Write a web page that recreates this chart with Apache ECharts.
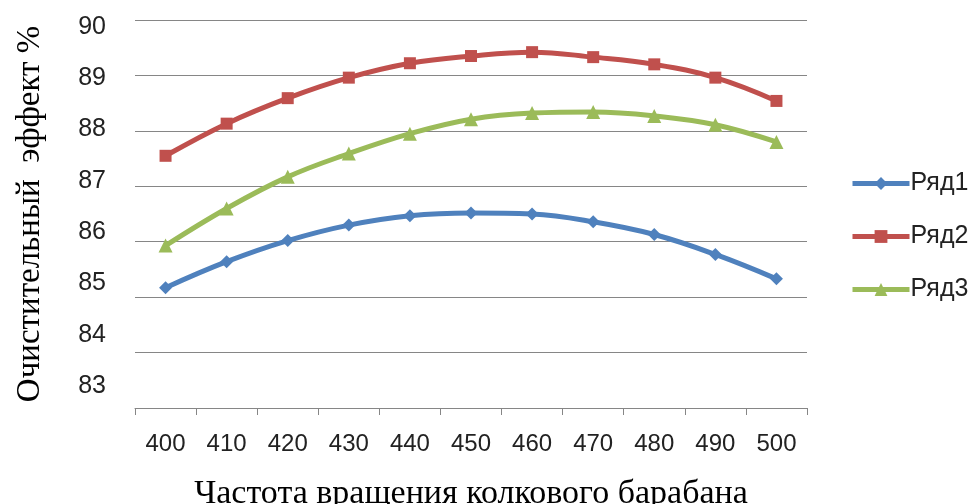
<!DOCTYPE html>
<html>
<head>
<meta charset="utf-8">
<script src="https://cdn.jsdelivr.net/npm/echarts@6/dist/echarts.min.js"></script>
<style>html,body{margin:0;padding:0;background:#fff;}#c{width:968px;height:504px;}</style>
</head>
<body>
<div id="c"></div>
<script>
var categories = ['400','410','420','430','440','450','460','470','480','490','500'];
var seriesNames = ['Ряд1','Ряд2','Ряд3'];
var row1 = [85.17, 85.64, 86.02, 86.30, 86.47, 86.52, 86.50, 86.36, 86.13, 85.77, 85.33];
var row2 = [87.55, 88.13, 88.59, 88.96, 89.22, 89.35, 89.42, 89.33, 89.20, 88.96, 88.54];
var row3 = [85.93, 86.60, 87.17, 87.59, 87.95, 88.21, 88.32, 88.34, 88.27, 88.11, 87.80];
var yTickLabels = [83, 84, 85, 86, 87, 88, 89, 90];
var xTitle = 'Частота вращения колкового барабана';
var yTitle = 'Очистительный  эффект %';

var colors = ['#4F81BD', '#C0504D', '#9BBB59'];
var symbols = ['diamond', 'rect', 'triangle'];
var symbolSizes = [13, 12, 14];
var rows = [row1, row2, row3];

var chart = echarts.init(document.getElementById('c'));
chart.setOption({
  animation: false,
  backgroundColor: '#fff',
  grid: { left: 135, right: 161, top: 20, bottom: 96, containLabel: false, outerBoundsMode: 'none' },
  legend: {
    orient: 'vertical',
    left: 850,
    top: 171,
    padding: 0,
    itemWidth: 57,
    itemHeight: 16,
    itemGap: 28,
    data: seriesNames,
    lineStyle: { width: 5 },
    textStyle: { fontFamily: 'Liberation Sans', fontSize: 25, lineHeight: 20, color: '#222', padding: [0, 0, 0, -4] }
  },
  xAxis: {
    type: 'category',
    data: categories,
    boundaryGap: true,
    name: xTitle,
    nameLocation: 'middle',
    nameGap: 69,
    nameTextStyle: { fontFamily: 'Liberation Serif', fontSize: 34, color: '#000' },
    axisLine: { lineStyle: { color: '#868686', width: 1 } },
    axisTick: { show: true, length: 7, lineStyle: { color: '#868686' } },
    axisLabel: { fontFamily: 'Liberation Sans', fontSize: 24, color: '#222', margin: 24 },
    splitLine: { show: false }
  },
  yAxis: [{
    type: 'value',
    min: 83,
    max: 90,
    interval: 1,
    name: yTitle,
    nameLocation: 'middle',
    nameGap: 88,
    nameRotate: 90,
    nameTextStyle: { fontFamily: 'Liberation Serif', fontSize: 33, color: '#000' },
    axisLine: { show: false },
    axisTick: { show: false },
    axisLabel: { show: false },
    splitLine: { show: true, lineStyle: { color: '#868686', width: 1 } }
  }, {
    type: 'value',
    position: 'left',
    min: 82.572,
    max: 90.136,
    axisLine: { show: false },
    axisTick: { show: false },
    splitLine: { show: false },
    axisLabel: {
      customValues: yTickLabels,
      fontFamily: 'Liberation Sans',
      fontSize: 25,
      color: '#222',
      margin: 29
    }
  }],
  series: rows.map(function (d, i) {
    return {
      name: seriesNames[i],
      type: 'line',
      yAxisIndex: 0,
      data: d,
      smooth: 0.4,
      symbol: symbols[i],
      symbolSize: symbolSizes[i],
      showSymbol: true,
      lineStyle: { color: colors[i], width: 5 },
      itemStyle: { color: colors[i] },
      z: 3 + i
    };
  })
});
</script>
</body>
</html>
